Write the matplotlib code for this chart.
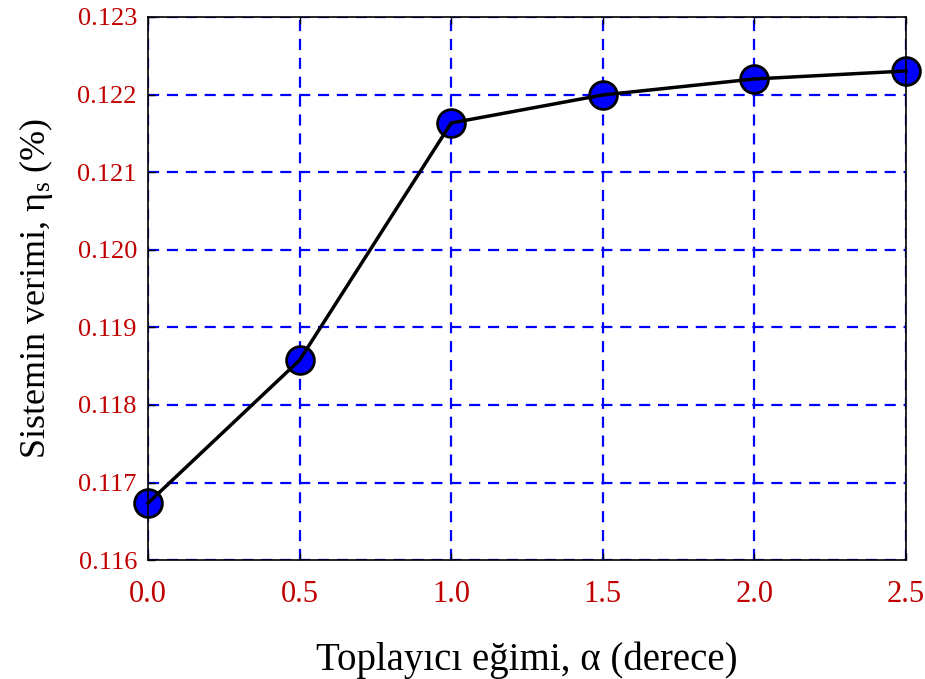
import matplotlib
matplotlib.use("Agg")
import matplotlib.pyplot as plt

plt.rcParams['font.family'] = ['Liberation Serif', 'DejaVu Serif']
plt.rcParams['mathtext.fontset'] = 'custom'
plt.rcParams['mathtext.rm'] = 'Liberation Serif'
plt.rcParams['mathtext.it'] = 'Liberation Serif:italic'

# toplayici egimi (derece) ve sistem verimi
egim = [0.0, 0.5, 1.0, 1.5, 2.0, 2.5]
verim = [0.116735, 0.118578, 0.121634, 0.121995, 0.122201, 0.122304]

xticks = [0.0, 0.5, 1.0, 1.5, 2.0, 2.5]
yticks = [0.116, 0.117, 0.118, 0.119, 0.120, 0.121, 0.122, 0.123]

fig = plt.figure(figsize=(9.25, 6.79), dpi=100)
ax = fig.add_axes([0.16, 0.175, 0.8195, 0.8])

ax.plot(egim, verim, 'o', color='blue', markersize=20, markeredgecolor='black',
        markeredgewidth=2, zorder=3, clip_on=False)
ax.plot(egim, verim, '-', color='black', linewidth=2.5, zorder=4, clip_on=False)

ax.set_xlim(0, 2.5)
ax.set_ylim(0.116, 0.123)
ax.set_xticks(xticks)
ax.set_xticklabels(['%.1f' % v for v in xticks])
ax.set_yticks(yticks)
ax.set_yticklabels(['%.3f' % v for v in yticks])

ax.grid(True, color='blue', linestyle=(0, (5, 3.5)), linewidth=1.6)
ax.tick_params(direction='in', length=5, width=1, labelcolor='#c00000',
               top=True, right=False)
ax.tick_params(axis='x', labelsize=22, pad=14)
ax.tick_params(axis='y', labelsize=19, pad=8)
for s in ax.spines.values():
    s.set_linewidth(1.2)
    s.set_zorder(5)

ax.set_xlabel('Toplayıcı eğimi, α (derece)', fontsize=28, labelpad=24)
ax.set_ylabel('Sistemin verimi, η$_\\mathrm{s}$ (%)', fontsize=26, labelpad=16)

fig.savefig('out.png', dpi=100)
